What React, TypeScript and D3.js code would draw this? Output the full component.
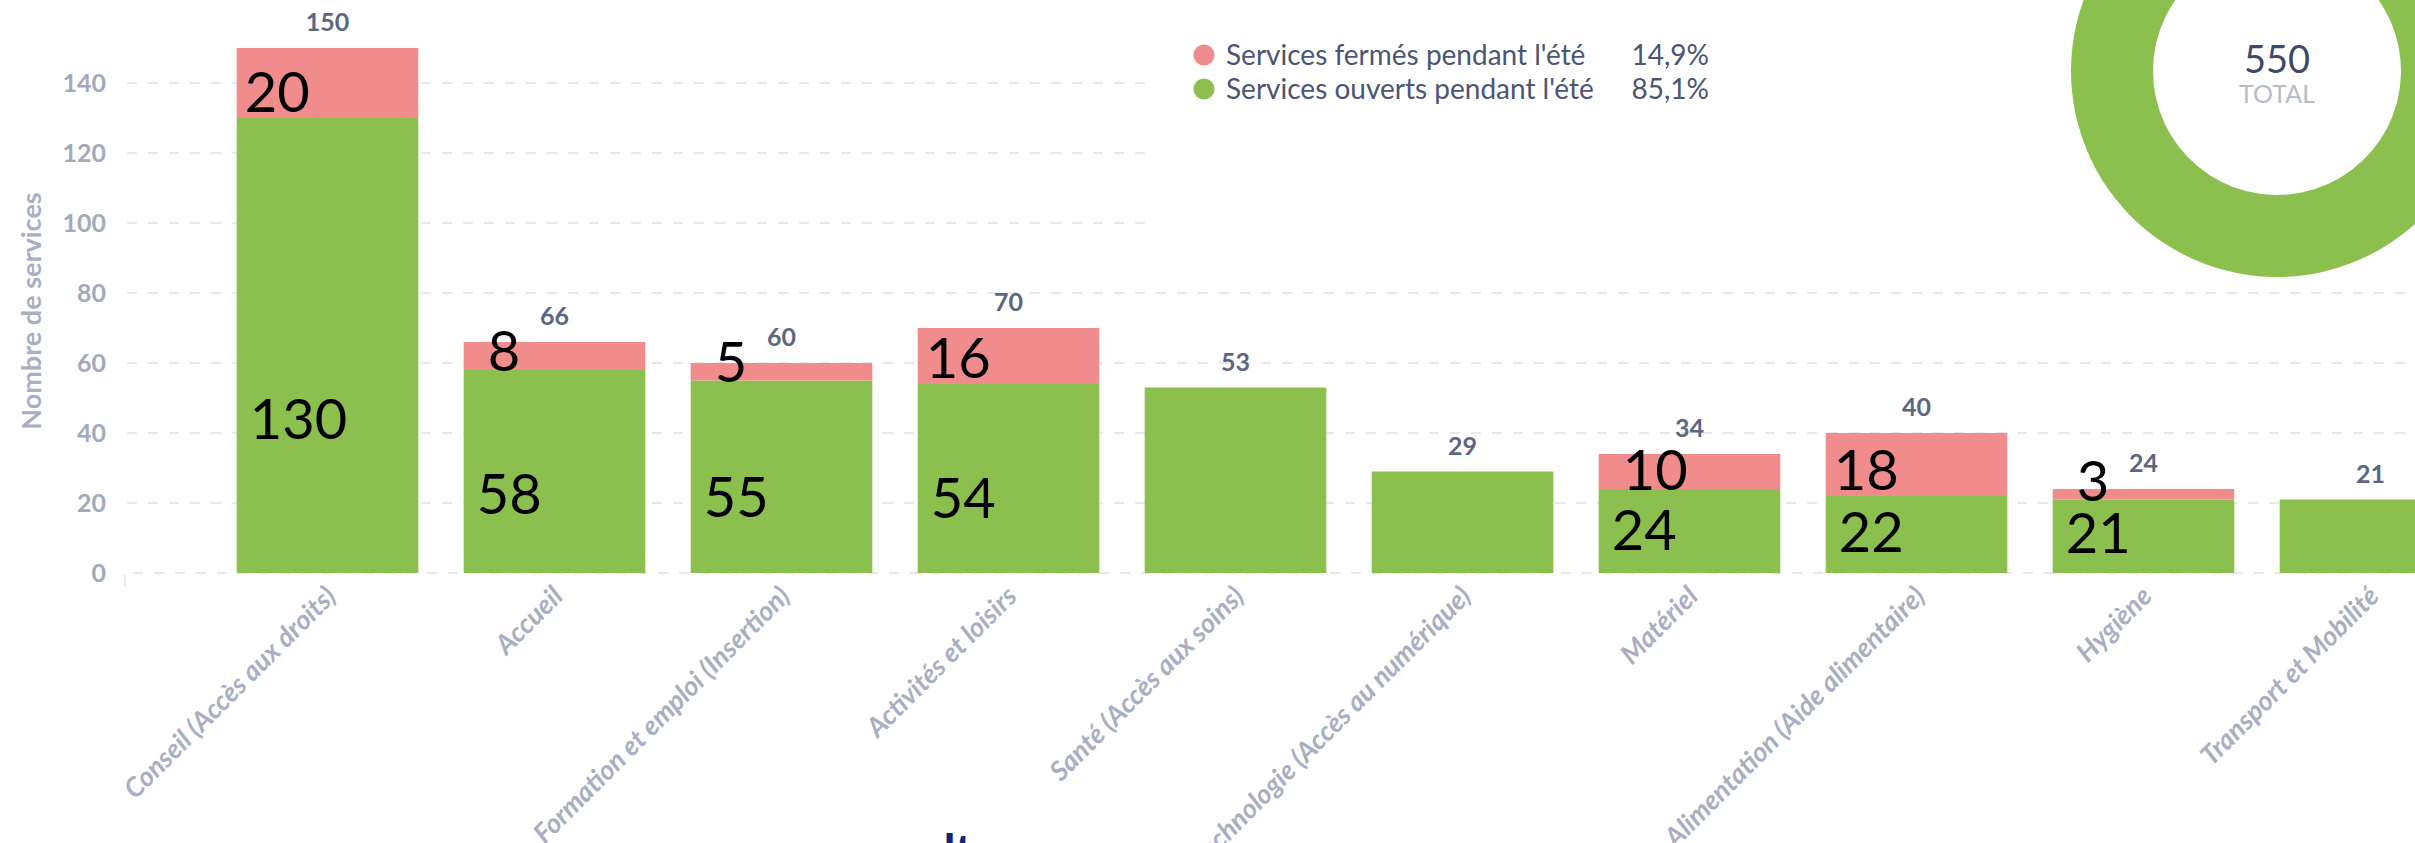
import React from "react";
import * as d3 from "d3";

const categories = [
  "Conseil (Accès aux droits)",
  "Accueil",
  "Formation et emploi (Insertion)",
  "Activités et loisirs",
  "Santé (Accès aux soins)",
  "Technologie (Accès au numérique)",
  "Matériel",
  "Alimentation (Aide alimentaire)",
  "Hygiène",
  "Transport et Mobilité",
];
const openValues = [130, 58, 55, 54, 53, 29, 24, 22, 21, 21];
const closedValues = [20, 8, 5, 16, 0, 0, 10, 18, 3, 0];
const yTicks = [0, 20, 40, 60, 80, 100, 120, 140];
const legendLabels = ["Services fermés pendant l'été", "Services ouverts pendant l'été"];
const legendPct = [14.9, 85.1];
const totalServices = 550;
const yAxisTitle = "Nombre de services";
const totalWord = "TOTAL";

const GREEN = "#8bc04f";
const RED = "#f08c8b";
const FONT = "Lato, 'Open Sans', sans-serif";

export default function App() {
  const W = 2415;
  const H = 843;
  const x = d3
    .scaleBand<string>()
    .domain(categories)
    .range([214, 2484])
    .paddingInner(0.2)
    .paddingOuter(0.1);
  const y = d3.scaleLinear().domain([0, 140]).range([573, 83]);

  const rows = categories.map((c, i) => ({
    cat: c,
    open: openValues[i],
    closed: closedValues[i],
  }));
  const series = d3.stack<any>().keys(["open", "closed"])(rows);
  const colors: Record<string, string> = { open: GREEN, closed: RED };

  const pie = d3.pie<number>().sort(null).startAngle(0).endAngle(2 * Math.PI);
  const arcs = pie(legendPct);
  const arc = d3.arc<any>().innerRadius(124).outerRadius(206);
  const donutColors = [RED, GREEN];
  const fmtPct = (v: number) => v.toFixed(1).replace(".", ",") + "%";

  const bw = x.bandwidth();

  return (
    <svg
      width={W}
      height={H}
      style={{ position: "absolute", left: 0, top: 0, background: "#fff" }}
      fontFamily={FONT}
    >
      <rect x={0} y={0} width={W} height={H} fill="#fff" />
      {/* gridlines */}
      {yTicks.map((t) => (
        <line
          key={"g" + t}
          x1={t === 0 ? 133 : 127}
          x2={W}
          y1={y(t)}
          y2={y(t)}
          stroke="#e5e8ee"
          strokeWidth={2}
          strokeDasharray="10 11"
        />
      ))}
      <line x1={125} x2={125} y1={575} y2={586} stroke="#e5e8ee" strokeWidth={2} />
      {/* white card behind legend & donut */}
      <rect x={1150} y={0} width={W - 1150} height={258} fill="#fff" />

      {/* y tick labels */}
      {yTicks.map((t) => (
        <text
          key={"t" + t}
          x={106}
          y={y(t) + 9}
          textAnchor="end"
          fontSize={25}
          fontWeight={700}
          fill="#a3a9ba"
        >
          {t}
        </text>
      ))}
      <text
        transform={`translate(41, 311) rotate(-90)`}
        textAnchor="middle"
        fontSize={27}
        fontWeight={700}
        fill="#a9afc0"
      >
        {yAxisTitle}
      </text>

      {/* bars */}
      {series.map((s) => (
        <g key={s.key} fill={colors[s.key]}>
          {s.map((d, i) =>
            d[1] - d[0] > 0 ? (
              <rect
                key={i}
                x={x(d.data.cat)}
                y={y(d[1])}
                width={bw}
                height={y(d[0]) - y(d[1])}
              />
            ) : null
          )}
        </g>
      ))}

      {/* totals above bars */}
      {rows.map((r) => (
        <text
          key={"tot" + r.cat}
          x={(x(r.cat) as number) + bw / 2}
          y={y(r.open + r.closed) - 17}
          textAnchor="middle"
          fontSize={25}
          fontWeight={700}
          fill="#5d6680"
        >
          {r.open + r.closed}
        </text>
      ))}

      {/* hand-placed black value annotations */}
      {rows.map((r) => {
        const x0 = x(r.cat) as number;
        const segH = y(r.open) - y(r.open + r.closed);
        const small = segH < 40;
        return r.closed > 0 ? (
          <text
            key={"c" + r.cat}
            x={x0 + (small ? 24 : 8)}
            y={small ? y(r.open) + 1 : y(r.open) - 6}
            fontSize={56}
            fill="#000"
            fontFamily={FONT}
          >
            {r.closed}
          </text>
        ) : null;
      })}
      {rows.map((r) => {
        const x0 = x(r.cat) as number;
        const show = r.closed > 0;
        return show ? (
          <text
            key={"o" + r.cat}
            x={x0 + 13}
            y={y(r.open * 0.3) + 2}
            fontSize={56}
            fill="#000"
            fontFamily={FONT}
          >
            {r.open}
          </text>
        ) : null;
      })}

      {/* x labels */}
      {categories.map((c) => (
        <text
          key={"x" + c}
          transform={`translate(${(x(c) as number) + bw / 2 + 10}, 598) rotate(-45)`}
          textAnchor="end"
          fontSize={27}
          fontStyle="italic"
          fontWeight={700}
          fill="#a9afc1"
        >
          {c}
        </text>
      ))}

      {/* legend */}
      {legendLabels.map((l, i) => (
        <g key={l} transform={`translate(0, ${55 + i * 34})`}>
          <circle cx={1204} cy={0} r={10.5} fill={donutColors[i]} />
          <text x={1226} y={10} fontSize={28} fill="#4c5573">
            {l}
          </text>
          <text x={1709} y={10} fontSize={28} fill="#4c5573" textAnchor="end">
            {fmtPct(legendPct[i])}
          </text>
        </g>
      ))}

      {/* donut */}
      <g transform="translate(2277, 71)">
        {arcs.map((a, i) => (
          <path key={i} d={arc(a) as string} fill={donutColors[i]} />
        ))}
        <text x={0} y={2} textAnchor="middle" fontSize={38} fill="#3f4a66">
          {totalServices}
        </text>
        <text x={0} y={32} textAnchor="middle" fontSize={25} fill="#b7bcc9">
          {totalWord}
        </text>
      </g>

      {/* partially visible heading at the bottom */}
      <text x={944} y={866} fontSize={44} fontWeight={900} fill="#14237a">
        lt
      </text>
    </svg>
  );
}
